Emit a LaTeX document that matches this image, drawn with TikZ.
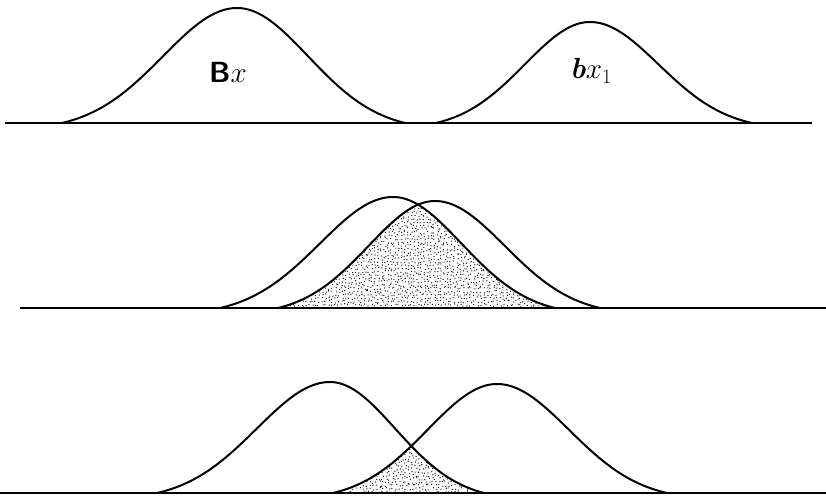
\documentclass[tikz,border=0pt]{standalone}
\usepackage{amsmath}
\usetikzlibrary{positioning}

\tikzset{
  curve/.style={line width=1.7pt, line join=round},
  baseline rule/.style={line width=1.5pt},
  lbl/.style={inner sep=0pt},
}
% bell from #1 over its peak at #2 to #3, height #4, standing on y=#5
\newcommand{\bell}[5]{plot[domain=#1:#3, samples=100, smooth]
  (\x, {#5 - #4*(exp(-2.8*((\x-#2)/((\x<#2)?(#2-#1):(#3-#2)))^2)-exp(-2.8))/(1-exp(-2.8))})}
% stipple over the box #1..#2 x #3..#4
\newcommand{\stipple}[4]{%
  \pgfmathtruncatemacro{\nx}{(#2-#1)/3.3}%
  \pgfmathtruncatemacro{\ny}{(#4-#3)/3.3}%
  \foreach \i in {0,...,\nx}
    \foreach \j in {0,...,\ny}
      {\fill ({#1+3.3*\i+1.3*rand},{#3+3.3*\j+1.3*rand}) circle[radius=0.55pt];}}

\begin{document}
\begin{tikzpicture}[x=0.03cm, y=-0.03cm]
\pgfmathsetseed{7}
\useasboundingbox (0,0) rectangle (826,496);

% top row
\draw[baseline rule] (5,123) -- (812,123);
\draw[curve] \bell{62}{237}{405}{115}{123};
\draw[curve] \bell{436}{590}{752}{101}{123};
\node[lbl] (bx) at (228,72) {\Huge\textsf{\textbf{B}}$x$};
\node[lbl] (bxone) at (591,71) {\Huge\textbf{\textit{b}}$x_{\scriptscriptstyle 1}$};

% middle row
\begin{scope}
  \clip \bell{220}{393}{555}{111}{308} -- cycle;
  \clip \bell{278}{435}{600}{107}{308} -- cycle;
  \stipple{276}{558}{196}{310}
\end{scope}
\draw[baseline rule] (20,308) -- (826,308);
\draw[curve] \bell{220}{393}{555}{111}{308};
\draw[curve] \bell{278}{435}{600}{107}{308};

% bottom row
\begin{scope}
  \clip \bell{157}{330}{484}{111}{493} -- cycle;
  \clip \bell{333}{497}{667}{109}{493} -- cycle;
  \stipple{330}{488}{436}{495}
\end{scope}
\draw[baseline rule] (0,493) -- (826,493);
\draw[curve] \bell{157}{330}{484}{111}{493};
\draw[curve] \bell{333}{497}{667}{109}{493};
\end{tikzpicture}
\end{document}
